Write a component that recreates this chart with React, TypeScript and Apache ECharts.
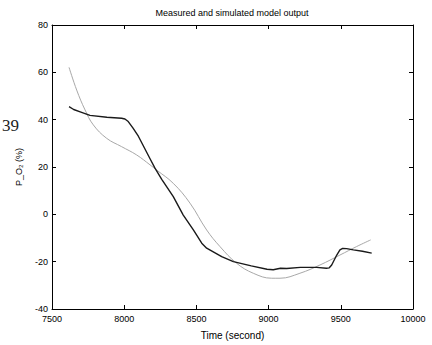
import React, { useEffect, useRef } from "react";
import * as echarts from "echarts";

const measuredTime = [7618, 7650, 7700, 7763, 7880, 7982, 8005, 8028, 8060, 8098, 8179, 8213, 8260, 8340, 8409, 8479, 8537, 8571, 8675, 8756, 8880, 8989, 9032, 9082, 9125, 9220, 9333, 9400, 9420, 9437, 9472, 9494, 9513, 9540, 9587, 9650, 9714];
const measuredValue = [45.5, 44.3, 43.2, 41.8, 41.0, 40.6, 40.3, 39.2, 36.5, 33.0, 23.5, 19.5, 14.8, 7.5, -0.3, -6.6, -12.2, -14.3, -17.9, -20.0, -21.8, -23.2, -23.4, -22.8, -22.9, -22.4, -22.4, -22.8, -22.6, -21.4, -17.2, -15.0, -14.4, -14.5, -15.0, -15.6, -16.4];

const simulatedTime = [7618, 7671, 7729, 7786, 7879, 7982, 8086, 8179, 8225, 8340, 8456, 8571, 8663, 8779, 8894, 9021, 9079, 9217, 9356, 9494, 9610, 9707];
const simulatedValue = [62.1, 52.5, 44.1, 37.8, 32.1, 28.6, 25.1, 20.9, 18.7, 13.1, 4.7, -6.6, -13.6, -20.7, -24.9, -27.0, -27.0, -24.9, -21.4, -17.2, -13.6, -10.8];

const xTicks = [7500, 8000, 8500, 9000, 9500, 10000];
const yTicks = [-40, -20, 0, 20, 40, 60, 80];

const FONT = "Liberation Sans";

export default function App() {
  const ref = useRef<HTMLDivElement>(null);
  useEffect(() => {
    if (!ref.current) return;
    const chart = echarts.init(ref.current, null, { renderer: "svg" });
    const measured = measuredTime.map((t, i) => [t, measuredValue[i]]);
    const simulated = simulatedTime.map((t, i) => [t, simulatedValue[i]]);
    const axisLine = { show: true, onZero: false, lineStyle: { color: "#000", width: 1 } };
    const tick = { show: true, inside: true, length: 4, lineStyle: { color: "#000" } };
    const label = { color: "#000", fontFamily: FONT, fontSize: 9, formatter: (v: number) => String(v) };
    chart.setOption({
      animation: false,
      backgroundColor: "#fff",
      grid: { left: 52, right: 19, top: 25, bottom: 36, containLabel: false },
      xAxis: [
        {
          type: "value", min: xTicks[0], max: xTicks[xTicks.length - 1], interval: 500,
          position: "bottom", axisLine, axisTick: tick, splitLine: { show: false },
          axisLabel: { ...label, margin: 5 },
          name: "Time (second)", nameLocation: "middle", nameGap: 21,
          nameTextStyle: { color: "#000", fontFamily: FONT, fontSize: 10 },
        },
        {
          type: "value", min: xTicks[0], max: xTicks[xTicks.length - 1], interval: 500,
          position: "top", axisLine, axisTick: tick, axisLabel: { show: false }, splitLine: { show: false },
        },
      ],
      yAxis: [
        {
          type: "value", min: yTicks[0], max: yTicks[yTicks.length - 1], interval: 20,
          position: "left", axisLine, axisTick: tick, splitLine: { show: false },
          axisLabel: { ...label, margin: 4 },
          name: "P_O\u2082 (%)", nameLocation: "middle", nameGap: 29, nameRotate: 90,
          nameTextStyle: { color: "#000", fontFamily: FONT, fontSize: 9 },
        },
        {
          type: "value", min: yTicks[0], max: yTicks[yTicks.length - 1], interval: 20,
          position: "right", axisLine, axisTick: tick, axisLabel: { show: false }, splitLine: { show: false },
        },
      ],
      graphic: [
        {
          type: "text", x: 232, y: 8,
          style: { text: "Measured and simulated model output", font: `9px "${FONT}"`, fill: "#000", textAlign: "center" },
        },
        {
          type: "text", x: 2, y: 117,
          style: { text: "39", font: "17px serif", fill: "#222" },
        },
      ],
      series: [
        {
          type: "line", data: simulated, showSymbol: false, smooth: 0.4,
          lineStyle: { color: "#a8a8a8", width: 1 },
        },
        {
          type: "line", data: measured, showSymbol: false, smooth: false,
          lineStyle: { color: "#1a1a1a", width: 1.4 },
        },
      ],
    });
    return () => chart.dispose();
  }, []);
  return <div ref={ref} style={{ position: "fixed", left: 0, top: 0, width: 432, height: 345 }} />;
}
